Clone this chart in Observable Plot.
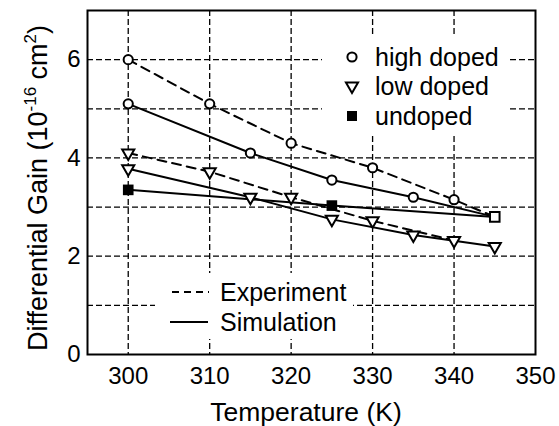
<!DOCTYPE html>
<html>
<head>
<meta charset="utf-8">
<script src="https://cdn.jsdelivr.net/npm/d3@7"></script>
<script src="https://cdn.jsdelivr.net/npm/@observablehq/plot@0.6"></script>
<style>
  html, body { margin: 0; padding: 0; background: white; }
  #chart svg { display: block; }
</style>
</head>
<body>
<div id="chart"></div>
<script>
// ---- data ----
const hiExpT = [300, 310, 320, 330, 340, 345];
const hiExpG = [6.0, 5.1, 4.3, 3.8, 3.15, 2.8];
const hiSimT = [300, 315, 325, 335, 345];
const hiSimG = [5.1, 4.1, 3.55, 3.2, 2.8];
const loExpT = [300, 310, 320, 330, 340];
const loExpG = [4.1, 3.72, 3.2, 2.72, 2.32];
const loSimT = [300, 315, 325, 335, 345];
const loSimG = [3.78, 3.2, 2.75, 2.43, 2.2];
const unSimT = [300, 325];
const unSimG = [3.35, 3.03];
const unLineT = [300, 325, 345];
const unLineG = [3.35, 3.03, 2.8];

const xTicks = [300, 310, 320, 330, 340, 350];
const yTicks = [0, 2, 4, 6];
const xGrid = [300, 310, 320, 330, 340];
const yGrid = [1, 2, 3, 4, 5, 6];

const toRows = (ts, gs) => ts.map((t, i) => ({t, g: gs[i]}));
const hiExp = toRows(hiExpT, hiExpG);
const hiSim = toRows(hiSimT, hiSimG);
const loExp = toRows(loExpT, loExpG);
const loSim = toRows(loSimT, loSimG);
const unPts = toRows(unSimT, unSimG);
const unLine = toRows(unLineT, unLineG);
const endT = 345;

const FONT = "'Liberation Sans', Arial, Helvetica, sans-serif";
const dashExp = "9,6";
const gridStyle = {stroke: "black", strokeOpacity: 1, strokeDasharray: "6,3", strokeWidth: 1.3};
const openDot = {x: "t", y: "g", fill: "white", stroke: "black", strokeWidth: 2};

const chart = Plot.plot({
  width: 559,
  height: 426,
  marginLeft: 87,
  marginRight: 24,
  marginTop: 10,
  marginBottom: 72,
  style: {fontFamily: FONT, fontSize: "24px", color: "black", background: "white"},
  x: {domain: [295, 350]},
  y: {domain: [0, 7]},
  marks: [
    Plot.gridX(xGrid, gridStyle),
    Plot.gridY(yGrid, gridStyle),
    Plot.axisX(xTicks, {tickSize: 0, tickPadding: 12, label: null, fontSize: 24}),
    Plot.axisY(yTicks, {tickSize: 0, tickPadding: 7, label: null, fontSize: 24}),
    Plot.line(hiExp, {x: "t", y: "g", stroke: "black", strokeWidth: 2, strokeDasharray: dashExp}),
    Plot.line(loExp, {x: "t", y: "g", stroke: "black", strokeWidth: 2, strokeDasharray: dashExp}),
    Plot.line(hiSim, {x: "t", y: "g", stroke: "black", strokeWidth: 2}),
    Plot.line(loSim, {x: "t", y: "g", stroke: "black", strokeWidth: 2}),
    Plot.line(unLine, {x: "t", y: "g", stroke: "black", strokeWidth: 2}),
    Plot.dot(unPts, {x: "t", y: "g", symbol: "square", r: 6, fill: "black", stroke: "none"}),
    Plot.dot(loExp, {...openDot, symbol: "triangle", r: 4.5, rotate: 180}),
    Plot.dot(loSim, {...openDot, symbol: "triangle", r: 4.5, rotate: 180}),
    Plot.dot(hiExp.filter(d => d.t !== endT), {...openDot, symbol: "circle", r: 4.6}),
    Plot.dot(hiSim.filter(d => d.t !== endT), {...openDot, symbol: "circle", r: 4.6}),
    Plot.dot(hiSim.filter(d => d.t === endT), {...openDot, symbol: "square", r: 5.4}),
    Plot.frame({stroke: "black", strokeWidth: 2})
  ]
});

document.getElementById("chart").appendChild(chart);

// ---- titles and legends ----
const svg = d3.select(chart);

// x title
svg.append("text")
  .attr("x", 306).attr("y", 421)
  .attr("text-anchor", "middle")
  .attr("font-family", FONT).attr("font-size", 26.5).attr("fill", "black")
  .text("Temperature (K)");

// y title with superscripts
const yt = svg.append("text")
  .attr("transform", "translate(47,188) rotate(-90)")
  .attr("text-anchor", "middle")
  .attr("font-family", FONT).attr("font-size", 27).attr("fill", "black");
yt.append("tspan").text("Differential Gain (10");
yt.append("tspan").attr("dy", -11).attr("font-size", 17).text("-16");
yt.append("tspan").attr("dy", 11).text(" cm");
yt.append("tspan").attr("dy", -11).attr("font-size", 17).text("2");
yt.append("tspan").attr("dy", 11).text(")");

// top-right legend
const lg = svg.append("g").attr("font-family", FONT).attr("font-size", 25).attr("fill", "black").attr("text-anchor", "start");
lg.append("rect").attr("x", 322).attr("y", 36).attr("width", 186).attr("height", 100).attr("fill", "white");
const legendItems = ["high doped", "low doped", "undoped"];
const ly = [57, 86, 116];
lg.append("circle").attr("cx", 352).attr("cy", ly[0]).attr("r", 4.6).attr("fill", "white").attr("stroke", "black").attr("stroke-width", 2);
lg.append("path").attr("transform", `translate(352,${ly[1]}) rotate(180)`)
  .attr("d", d3.symbol(d3.symbolTriangle, Math.PI * 4.5 * 4.5)())
  .attr("fill", "white").attr("stroke", "black").attr("stroke-width", 2);
lg.append("rect").attr("x", 347).attr("y", ly[2] - 5).attr("width", 10).attr("height", 10).attr("fill", "black");
legendItems.forEach((s, i) => {
  lg.append("text").attr("x", 375).attr("y", ly[i]).attr("dy", "0.36em").attr("text-anchor", "start").text(s);
});

// bottom legend
const lb = svg.append("g").attr("font-family", FONT).attr("font-size", 25).attr("fill", "black").attr("text-anchor", "start");
lb.append("rect").attr("x", 155).attr("y", 273).attr("width", 198).attr("height", 66).attr("fill", "white");
lb.append("line").attr("x1", 172).attr("x2", 209).attr("y1", 292).attr("y2", 292)
  .attr("stroke", "black").attr("stroke-width", 2).attr("stroke-dasharray", "7,5");
lb.append("line").attr("x1", 170).attr("x2", 208).attr("y1", 322).attr("y2", 322)
  .attr("stroke", "black").attr("stroke-width", 2);
lb.append("text").attr("x", 220).attr("y", 292).attr("dy", "0.36em").attr("text-anchor", "start").text("Experiment");
lb.append("text").attr("x", 220).attr("y", 322).attr("dy", "0.36em").attr("text-anchor", "start").text("Simulation");
</script>
</body>
</html>
